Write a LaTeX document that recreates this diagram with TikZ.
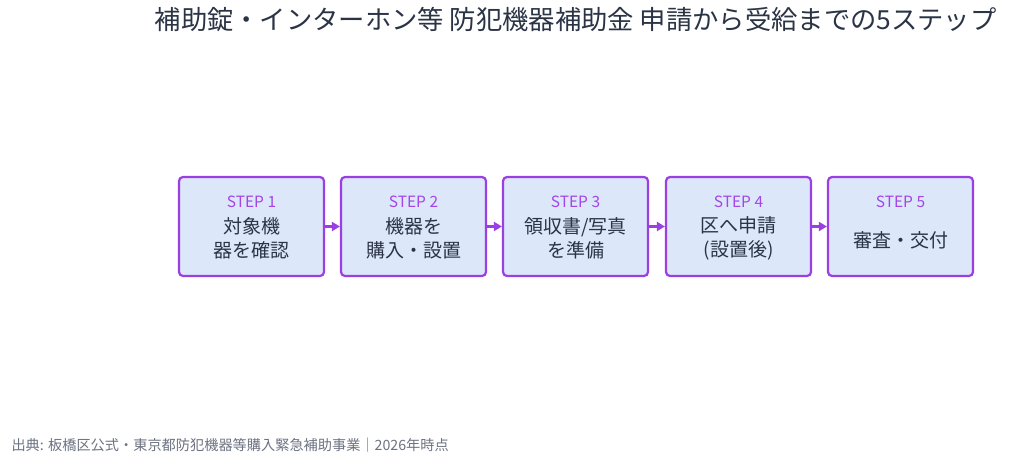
\documentclass[tikz,border=0pt]{standalone}
\usepackage{fontspec}
\setmainfont{Noto Sans CJK JP}
\usetikzlibrary{arrows.meta}
\definecolor{bfill}{HTML}{DCE7FA}
\definecolor{bdraw}{HTML}{9B3FE3}
\definecolor{steptxt}{HTML}{A346E6}
\definecolor{maintxt}{HTML}{2A3445}
\definecolor{foot}{HTML}{6B7280}
\begin{document}
\begin{tikzpicture}[x=1pt,y=-1pt,
  box/.style={draw=bdraw,line width=2.2pt,fill=bfill,rounded corners=4pt,minimum width=145pt,minimum height=99pt,inner sep=0pt},
  st/.style={text=steptxt,font=\fontsize{15.5}{18}\selectfont},
  mt/.style={text=maintxt,font=\fontsize{19}{24}\selectfont,align=center},
  arr/.style={draw=bdraw,line width=2.5pt,-{Triangle[length=8pt,width=9pt]}}]
\useasboundingbox (0,0) rectangle (1024,463);
\node[text=maintxt,font=\fontsize{26.3}{30}\selectfont,anchor=east] (title) at (1000,20) {補助錠・インターホン等 防犯機器補助金 申請から受給までの5ステップ};
\foreach \i/\x/\t in {1/251.5/{対象機\\器を確認},2/413.5/{機器を\\購入・設置},3/575.5/{領収書/写真\\を準備},4/738.5/{区へ申請\\(設置後)},5/900.5/{審査・交付}}{
  \node[box] (b\i) at (\x,226.5) {};
  \node[st] (s\i) at (\x,202) {STEP \i};
  \node[mt] (m\i) at (\x,\ifnum\i=5 240\else 238\fi) {\t};
}
\foreach \a/\b in {1/2,2/3,3/4,4/5}{\draw[arr] (b\a.east) -- (b\b.west);}
\node[text=foot,font=\fontsize{14.2}{17}\selectfont,anchor=west] (src) at (8,445) {出典: 板橋区公式・東京都防犯機器等購入緊急補助事業｜2026年時点};
\end{tikzpicture}
\end{document}
